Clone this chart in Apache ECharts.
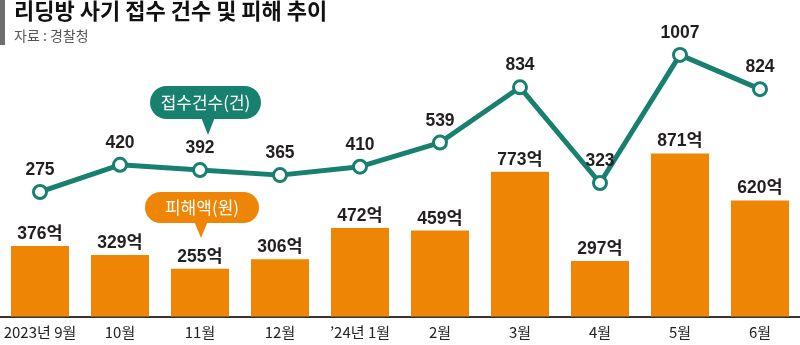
<!DOCTYPE html>
<html><head><meta charset="utf-8">
<script src="https://cdn.jsdelivr.net/npm/echarts@6/dist/echarts.min.js"></script>
<style>html,body{margin:0;padding:0;background:#fff}#c{width:800px;height:345px}</style>
</head><body><div id="c"></div>
<script>
const categories = ['2023년 9월','10월','11월','12월','\u201924년 1월','2월','3월','4월','5월','6월'];
const damage = [376,329,255,306,472,459,773,297,871,620];
const reports = [275,420,392,365,410,539,834,323,1007,824];

const ORANGE = '#EE8505';
const TEAL = '#17806F';
const NUMFONT = '"Liberation Sans","Noto Sans CJK KR",sans-serif';
const KFONT = '"Noto Sans CJK KR",sans-serif';

const chart = echarts.init(document.getElementById('c'), null, {renderer:'canvas'});
chart.setOption({
  animation:false,
  backgroundColor:'#fff',
  grid:{left:0,right:0,top:30,bottom:28.5,containLabel:false},
  xAxis:{type:'category',data:categories,boundaryGap:true,
    axisTick:{show:false},
    axisLine:{lineStyle:{color:'#333',width:2}},
    axisLabel:{color:'#222',fontSize:15,fontFamily:KFONT,margin:8,interval:0}},
  yAxis:[
    {type:'value',min:0,max:1530,show:false,splitLine:{show:false}},
    {type:'value',min:-390,max:1140,show:false,splitLine:{show:false}}
  ],
  series:[
    {type:'bar',data:damage,yAxisIndex:0,barWidth:58,
      itemStyle:{color:ORANGE},
      label:{show:true,position:'top',distance:3,formatter:'{c}억',
        color:'#231f20',fontSize:17.5,fontWeight:'bold',fontFamily:NUMFONT}},
    {type:'line',data:reports,yAxisIndex:1,symbol:'circle',symbolSize:13,z:5,
      lineStyle:{color:TEAL,width:5},
      itemStyle:{color:'#fff',borderColor:TEAL,borderWidth:3},
      label:{show:true,position:'top',distance:5,color:'#231f20',fontSize:17.5,fontWeight:'bold',fontFamily:NUMFONT}}
  ],
  graphic:[
    {type:'rect',left:0,top:0,shape:{width:5,height:45},style:{fill:'#6d6d6d'}},
    {type:'text',left:14,top:0,style:{text:'리딩방 사기 접수 건수 및 피해 추이',fontSize:22,fontWeight:'bold',fill:'#111',fontFamily:KFONT}},
    {type:'text',left:14,top:29,style:{text:'자료 : 경찰청',fontSize:14,fill:'#555',fontFamily:KFONT}},
    {type:'group',z:100,children:[
      {type:'rect',shape:{x:150,y:86,width:111,height:33,r:16.5},style:{fill:TEAL}},
      {type:'polygon',shape:{points:[[201,117],[215,117],[208,135]]},style:{fill:TEAL}},
      {type:'text',style:{x:205.5,y:102.5,text:'접수건수(건)',fill:'#fff',fontSize:17,fontFamily:KFONT,align:'center',verticalAlign:'middle'}}
    ]},
    {type:'group',z:100,children:[
      {type:'rect',shape:{x:145,y:192,width:114,height:31,r:15.5},style:{fill:ORANGE}},
      {type:'polygon',shape:{points:[[194,221],[208,221],[201,238]]},style:{fill:ORANGE}},
      {type:'text',style:{x:202,y:207.5,text:'피해액(원)',fill:'#fff',fontSize:17,fontFamily:KFONT,align:'center',verticalAlign:'middle'}}
    ]}
  ]
});
</script></body></html>
